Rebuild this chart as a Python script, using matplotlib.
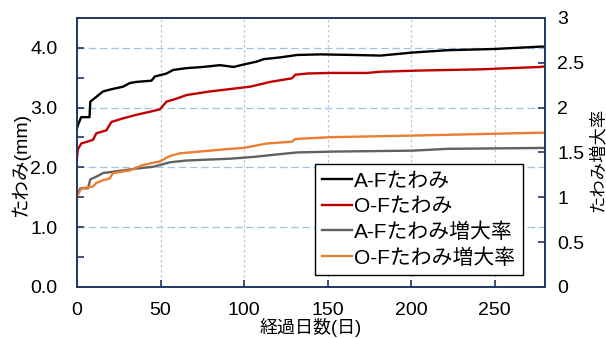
import matplotlib
matplotlib.use("Agg")
import matplotlib.pyplot as plt
from matplotlib.ticker import MultipleLocator, FormatStrFormatter

plt.rcParams['font.family'] = ['Liberation Sans', 'Noto Sans CJK JP']

# A-F deflection (mm), left axis
af_days = [0, 0.5, 2.5, 7.5, 8, 11.6, 15.6, 19.6, 27.6, 31.6, 35.6, 44.6, 46.6, 53.6,
           57.6, 65.6, 75.6, 85.6, 93.7, 99.7, 107.7, 111.7, 121.7, 131.7, 145.7,
           165.7, 181.7, 200.6, 221.6, 249.6, 277.6, 280]
af_vals = [2.65, 2.7, 2.84, 2.84, 3.10, 3.18, 3.27, 3.30, 3.35, 3.41, 3.43, 3.45, 3.52,
           3.57, 3.63, 3.66, 3.68, 3.71, 3.68, 3.72, 3.77, 3.81, 3.84, 3.88, 3.89,
           3.88, 3.87, 3.92, 3.96, 3.98, 4.02, 4.02]

# O-F deflection (mm), left axis
of_days = [0, 0.5, 2.6, 9.6, 11.6, 17.6, 20.6, 27.6, 35.6, 43.6, 49.6, 53.6, 59.6, 65.6,
           79.6, 91.6, 103.7, 115.7, 128.7, 130.7, 137.7, 151.7, 173.7, 181.7, 205.6,
           241.6, 277.6, 280]
of_vals = [2.15, 2.3, 2.40, 2.46, 2.57, 2.62, 2.76, 2.82, 2.88, 2.93, 2.97, 3.10, 3.15,
           3.21, 3.27, 3.31, 3.35, 3.43, 3.49, 3.55, 3.57, 3.58, 3.58, 3.60, 3.62,
           3.64, 3.68, 3.69]

# A-F growth ratio, right axis
afr_days = [0, 2, 6.6, 8, 11.6, 15.6, 27.6, 35.6, 45.6, 55.6, 65.6, 91.6, 105.7, 115.7,
            131.7, 155.7, 201, 221.6, 277.6, 280]
afr_vals = [1.03, 1.10, 1.10, 1.20, 1.23, 1.27, 1.30, 1.32, 1.34, 1.39, 1.41, 1.43, 1.45,
            1.47, 1.50, 1.51, 1.52, 1.54, 1.55, 1.55]

# O-F growth ratio, right axis
ofr_days = [0, 2.6, 9.6, 11.6, 15.6, 19.6, 21.6, 31.6, 39.6, 49.6, 55.6, 61.6, 79.6,
            91.6, 99.7, 113.7, 128.7, 130.7, 151.7, 205.6, 277.6, 280]
ofr_vals = [1.01, 1.10, 1.12, 1.16, 1.19, 1.21, 1.27, 1.30, 1.36, 1.40, 1.46, 1.49, 1.52,
            1.54, 1.55, 1.60, 1.62, 1.65, 1.67, 1.69, 1.72, 1.72]

labels = ['A-Fたわみ', 'O-Fたわみ', 'A-Fたわみ増大率', 'O-Fたわみ増大率']
colors = ['#000000', '#C00000', '#616161', '#ED7D31']
spine_col = '#1F3864'

fig = plt.figure(figsize=(6.06, 3.38), dpi=100)
ax = fig.add_axes([0.127, 0.151, 0.772, 0.796])
ax2 = ax.twinx()

l1, = ax.plot(af_days, af_vals, color=colors[0], lw=1.7, zorder=3)
l2, = ax.plot(of_days, of_vals, color=colors[1], lw=1.7, zorder=3)
l3, = ax2.plot(afr_days, afr_vals, color=colors[2], lw=1.7)
l4, = ax2.plot(ofr_days, ofr_vals, color=colors[3], lw=1.7)

ax.set_xlim(0, 280)
ax.set_ylim(0, 4.5)
ax2.set_ylim(0, 3)
ax.set_yticks([0, 1, 2, 3, 4])
ax.yaxis.set_minor_locator(MultipleLocator(0.5))
ax.yaxis.set_major_formatter(FormatStrFormatter('%.1f'))
ax.set_xticks([0, 50, 100, 150, 200, 250])
ax2.set_yticks([0, 0.5, 1, 1.5, 2, 2.5, 3])
ax2.set_yticklabels(['0', '0.5', '1', '1.5', '2', '2.5', '3'])

ax.grid(axis='y', color='#9DC3E6', ls=(0, (6, 3)), lw=0.9)
ax.grid(axis='x', color='#B4C7E7', ls=(0, (2, 2)), lw=0.9)
ax.set_axisbelow(True)

for a in (ax, ax2):
    for s in a.spines.values():
        s.set_color(spine_col)
        s.set_linewidth(1.2)
ax.tick_params(axis='both', which='both', direction='in', color=spine_col,
               labelsize=14, width=1.2, length=5)
ax.tick_params(axis='y', which='both', pad=14)
ax.tick_params(axis='x', pad=11)
ax2.tick_params(axis='y', direction='in', color=spine_col, labelsize=14,
                width=1.2, length=5, pad=9)

ax.set_xlabel('経過日数(日)', fontsize=13)
ax.xaxis.set_label_coords(0.5, -0.115)
ax.set_ylabel('たわみ(mm)', fontsize=14)
ax.yaxis.set_label_coords(-0.10, 0.454)
ax2.set_ylabel('たわみ増大率', fontsize=12.5)
ax2.yaxis.set_label_coords(1.095, 0.472)

leg = ax2.legend([l1, l2, l3, l4], labels, loc='lower right',
                 bbox_to_anchor=(0.953, 0.045), borderaxespad=0, fontsize=15,
                 handlelength=1.45, handletextpad=0.1, labelspacing=0.3,
                 fancybox=False, framealpha=1, edgecolor='black', borderpad=0.35)
leg.get_frame().set_linewidth(1.0)

fig.savefig('out.png', dpi=100)
